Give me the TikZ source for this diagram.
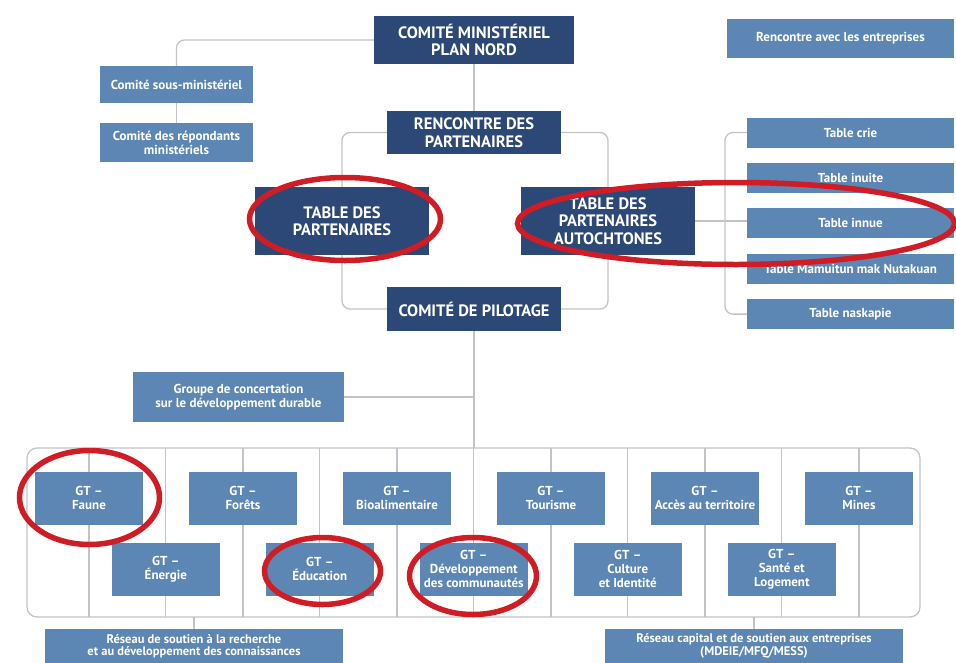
\documentclass[tikz,border=0pt]{standalone}
\usepackage{fontspec}
\setmainfont{PT Sans}
\usetikzlibrary{positioning, backgrounds}

\definecolor{navybox}{RGB}{44,72,118}
\definecolor{steelbox}{RGB}{92,134,179}
\definecolor{linkgray}{RGB}{192,196,202}
\definecolor{ringred}{RGB}{208,28,36}

\begin{document}
\begin{tikzpicture}[
    x=1pt, y=-1pt,
    headbox/.style={rectangle, fill=navybox, text=white, inner sep=2pt, align=center, font=\fontsize{16.5}{17.5}\selectfont\bfseries},
    subbox/.style={rectangle, fill=steelbox, text=white, inner sep=2pt, align=center, font=\fontsize{13}{14}\selectfont\bfseries},
    gtbox/.style={subbox, minimum width=108pt, minimum height=53pt},
    tablebox/.style={subbox, minimum width=207pt, minimum height=30pt},
    netbox/.style={subbox, minimum width=298pt, minimum height=34pt, font=\fontsize{12.5}{12.5}\selectfont\bfseries},
    link/.style={draw=linkgray, line width=1.3pt},
    ring/.style={draw=ringred, line width=5.5pt},
]
    \useasboundingbox (0,0) rectangle (956,662);
    \clip (0,0) rectangle (956,662);

    % Top level
    \node[headbox, minimum width=200pt, minimum height=48pt] (cmpn) at (474,40) {COMITÉ MINISTÉRIEL\\PLAN NORD};
    \node[subbox, minimum width=227pt, minimum height=39pt] (rae) at (840.5,38.5) {Rencontre avec les entreprises};
    \node[subbox, minimum width=153pt, minimum height=37pt] (csm) at (176.5,84.5) {Comité sous-ministériel};
    \node[subbox, minimum width=153pt, minimum height=39pt] (cdr) at (176.5,142.5) {Comité des répondants\\ministériels};

    % Partners loop
    \node[headbox, minimum width=174pt, minimum height=43pt] (rdp) at (474,132.5) {RENCONTRE DES\\PARTENAIRES};
    \node[headbox, minimum width=174pt, minimum height=68pt] (tdp) at (342,221) {TABLE DES\\PARTENAIRES};
    \node[headbox, minimum width=174pt, minimum height=68pt] (tpa) at (608,221) {TABLE DES\\PARTENAIRES\\AUTOCHTONES};
    \node[headbox, minimum width=174pt, minimum height=44pt] (pil) at (474,309) {COMITÉ DE PILOTAGE};

    % Aboriginal tables
    \node[tablebox] (tcrie) at (850.5,132.5) {Table crie};
    \node[tablebox, below=15pt of tcrie] (tinuite) {Table inuite};
    \node[tablebox, below=15pt of tinuite] (tinnue) {Table innue};
    \node[tablebox, below=15pt of tinnue] (tmamu) {Table Mamuitun mak Nutakuan};
    \node[tablebox, below=15pt of tmamu] (tnask) {Table naskapie};

    \node[subbox, minimum width=211pt, minimum height=50pt] (gcd) at (238.5,397) {Groupe de concertation\\sur le développement durable};

    % Working groups
    \node[gtbox] (faune) at (89,498) {GT –\\Faune};
    \node[gtbox, right=45.6pt of faune] (forets) {GT –\\Forêts};
    \node[gtbox, right=45.6pt of forets] (bioal) {GT –\\Bioalimentaire};
    \node[gtbox, right=45.6pt of bioal] (tourisme) {GT –\\Tourisme};
    \node[gtbox, right=45.6pt of tourisme] (acces) {GT –\\Accès au territoire};
    \node[gtbox, right=45.6pt of acces] (mines) {GT –\\Mines};
    \node[gtbox] (energie) at (165.8,569) {GT –\\Énergie};
    \node[gtbox, right=45.6pt of energie] (educ) {GT –\\Éducation};
    \node[gtbox, right=45.6pt of educ] (devcom) {GT –\\Développement\\des communautés};
    \node[gtbox, right=45.6pt of devcom] (culture) {GT –\\Culture\\et Identité};
    \node[gtbox, right=45.6pt of culture] (sante) {GT –\\Santé et\\Logement};

    % Support networks
    \node[netbox] (rsr) at (194,646) {Réseau de soutien à la recherche\\et au développement des connaissances};
    \node[netbox] (rce) at (754,646) {Réseau capital et de soutien aux entreprises\\(MDEIE/MFQ/MESS)};

    \coordinate (fnw) at (27,448);
    \coordinate (fse) at (920,617);
    \coordinate (brk) at (725,221);

    \begin{scope}[on background layer]
        \draw[link, rounded corners=8pt] (cmpn.west) -| (csm.north);
        \draw[link] (csm) -- (cdr);
        \draw[link] (cmpn) -- (rdp);
        \draw[link, rounded corners=8pt] (rdp.west) -| (tdp.center) |- (pil.west);
        \draw[link, rounded corners=8pt] (rdp.east) -| (tpa.center) |- (pil.east);
        \draw[link, rounded corners=8pt] (tcrie.west) -| (brk) |- (tnask.west);
        \draw[link] (tpa.east) -- (tpa.east -| tinnue.west);
        \draw[link] (pil) -- (pil |- fnw);
        \draw[link] (gcd.east) -- (gcd.east -| pil);
        \draw[link, rounded corners=10pt] (fnw) rectangle (fse);
        \draw[link] (faune |- fnw) -- (faune |- fse);
        \draw[link] (forets |- fnw) -- (forets |- fse);
        \draw[link] (bioal |- fnw) -- (bioal |- fse);
        \draw[link] (tourisme |- fnw) -- (tourisme |- fse);
        \draw[link] (acces |- fnw) -- (acces |- fse);
        \draw[link] (mines |- fnw) -- (mines |- fse);
        \draw[link] (energie |- fnw) -- (energie |- fse);
        \draw[link] (educ |- fnw) -- (educ |- fse);
        \draw[link] (devcom |- fnw) -- (devcom |- fse);
        \draw[link] (culture |- fnw) -- (culture |- fse);
        \draw[link] (sante |- fnw) -- (sante |- fse);
        \draw[link] (rsr.north) -- (rsr.north |- fse);
        \draw[link] (rce.north) -- (rce.north |- fse);
    \end{scope}

    % Red highlights
    \draw[ring] (345,219) ellipse [x radius=95.5pt, y radius=41.5pt];
    \draw[ring] (736,223.5) ellipse [x radius=218.5pt, y radius=41pt];
    \draw[ring] (89.5,497.5) ellipse [x radius=70pt, y radius=47pt];
    \draw[ring] (322.5,571) ellipse [x radius=58pt, y radius=33.5pt];
    \draw[ring] (473,576) ellipse [x radius=63.5pt, y radius=38.5pt];
\end{tikzpicture}
\end{document}
